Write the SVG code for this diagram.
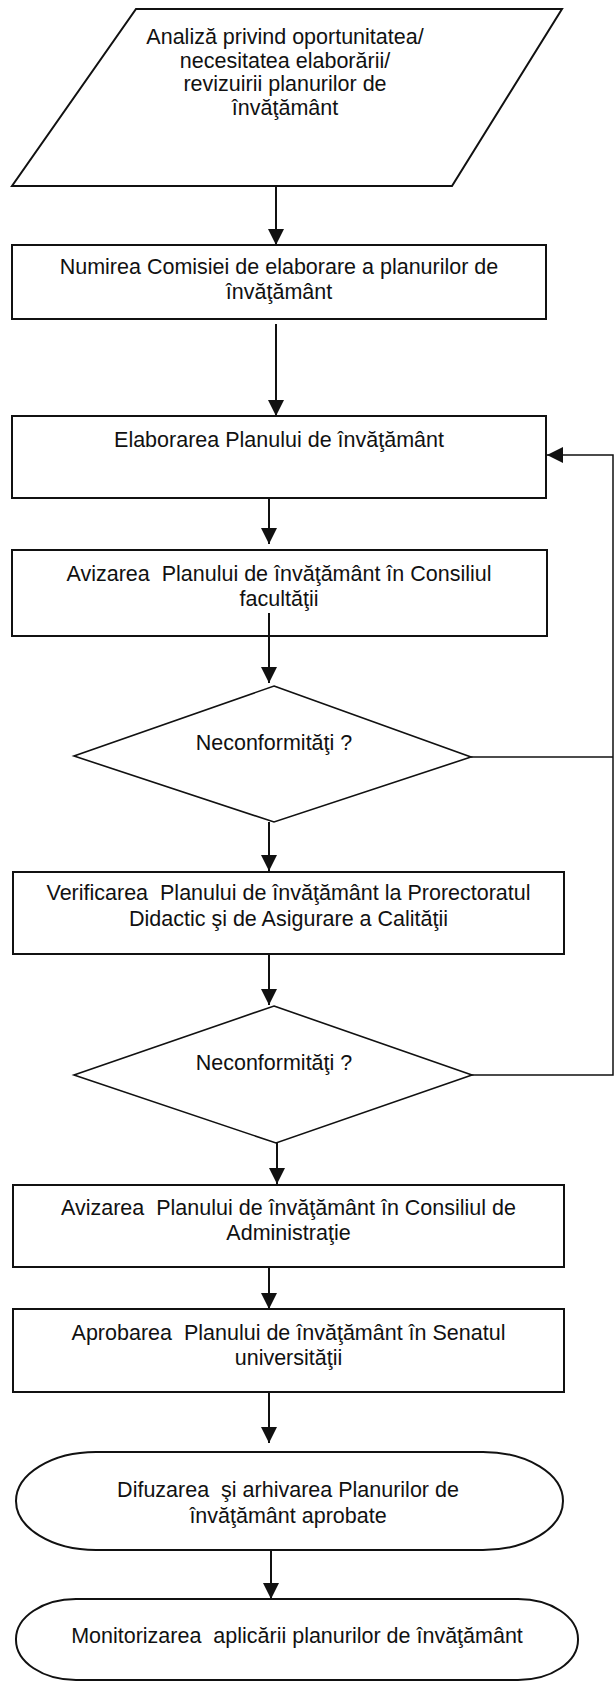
<svg xmlns="http://www.w3.org/2000/svg" width="615" height="1681" viewBox="0 0 615 1681">
<style>
.shape{fill:#fff;stroke:#111;stroke-width:2}
.dia{fill:#fff;stroke:#111;stroke-width:1.6}
.conn{fill:none;stroke:#111;stroke-width:2}
.fb{fill:none;stroke:#111;stroke-width:1.5}
text{font-family:"Liberation Sans",Arial,sans-serif;font-size:21.5px;fill:#111;text-anchor:middle;white-space:pre}
</style>
<defs>
<marker id="ah" markerUnits="userSpaceOnUse" markerWidth="17" markerHeight="17" refX="16" refY="8" orient="auto" viewBox="0 0 17 17"><path d="M0,0 L16,8 L0,16 Z" fill="#111"/></marker>
</defs>
<rect width="615" height="1681" fill="#fff"/>

<g id="connectors">
<line class="conn" x1="276" y1="186" x2="276" y2="245" marker-end="url(#ah)"/>
<line class="conn" x1="276" y1="324" x2="276" y2="416" marker-end="url(#ah)"/>
<line class="conn" x1="269" y1="498" x2="269" y2="544" marker-end="url(#ah)"/>
<line class="conn" x1="269" y1="822" x2="269" y2="871" marker-end="url(#ah)"/>
<line class="conn" x1="269" y1="954" x2="269" y2="1005" marker-end="url(#ah)"/>
<line class="conn" x1="277" y1="1143" x2="277" y2="1184" marker-end="url(#ah)"/>
<line class="conn" x1="269" y1="1267" x2="269" y2="1309" marker-end="url(#ah)"/>
<line class="conn" x1="269" y1="1392" x2="269" y2="1443" marker-end="url(#ah)"/>
<line class="conn" x1="271" y1="1550" x2="271" y2="1599" marker-end="url(#ah)"/>
<line class="fb" x1="471" y1="757" x2="613" y2="757"/>
<polyline class="fb" points="472,1075 613,1075 613,455 547,455" marker-end="url(#ah)"/>
</g>

<g id="n1">
<polygon class="shape" points="136,9 562,9 452,186 12,186"/>
<text x="285" y="44">Analiză privind oportunitatea/</text>
<text x="285" y="67.5">necesitatea elaborării/</text>
<text x="285" y="91">revizuirii planurilor de</text>
<text x="285" y="114.5">învăţământ</text>
</g>

<g id="n2">
<rect class="shape" x="12" y="245" width="534" height="74"/>
<text x="279" y="274">Numirea Comisiei de elaborare a planurilor de</text>
<text x="279" y="299">învăţământ</text>
</g>

<g id="n3">
<rect class="shape" x="12" y="416" width="534" height="82"/>
<text x="279" y="447">Elaborarea Planului de învăţământ</text>
</g>

<g id="n4">
<rect class="shape" x="12" y="550" width="535" height="86"/>
<text x="279" y="581">Avizarea  Planului de învăţământ în Consiliul</text>
<text x="279" y="606">facultăţii</text>
</g>
<line class="conn" x1="269" y1="613" x2="269" y2="683" marker-end="url(#ah)"/>

<g id="n5">
<polygon class="dia" points="274,686 471,757 274,822 74,756"/>
<text x="274" y="750">Neconformităţi ?</text>
</g>

<g id="n6">
<rect class="shape" x="13" y="872" width="551" height="82"/>
<text x="288.5" y="900">Verificarea  Planului de învăţământ la Prorectoratul</text>
<text x="288.5" y="926">Didactic şi de Asigurare a Calităţii</text>
</g>

<g id="n7">
<polygon class="dia" points="274,1006 472,1075 276,1143 74,1075"/>
<text x="274" y="1070">Neconformităţi ?</text>
</g>

<g id="n8">
<rect class="shape" x="13" y="1185" width="551" height="82"/>
<text x="288.5" y="1215">Avizarea  Planului de învăţământ în Consiliul de</text>
<text x="288.5" y="1240">Administraţie</text>
</g>

<g id="n9">
<rect class="shape" x="13" y="1309" width="551" height="83"/>
<text x="288.5" y="1340">Aprobarea  Planului de învăţământ în Senatul</text>
<text x="288.5" y="1365">universităţii</text>
</g>

<g id="n10">
<rect class="shape" x="16" y="1452" width="547" height="98" rx="80" ry="49"/>
<text x="288" y="1497">Difuzarea  şi arhivarea Planurilor de</text>
<text x="288" y="1523">învăţământ aprobate</text>
</g>

<g id="n11">
<rect class="shape" x="16" y="1599" width="562" height="81" rx="60" ry="40"/>
<text x="297" y="1643">Monitorizarea  aplicării planurilor de învăţământ</text>
</g>
</svg>
